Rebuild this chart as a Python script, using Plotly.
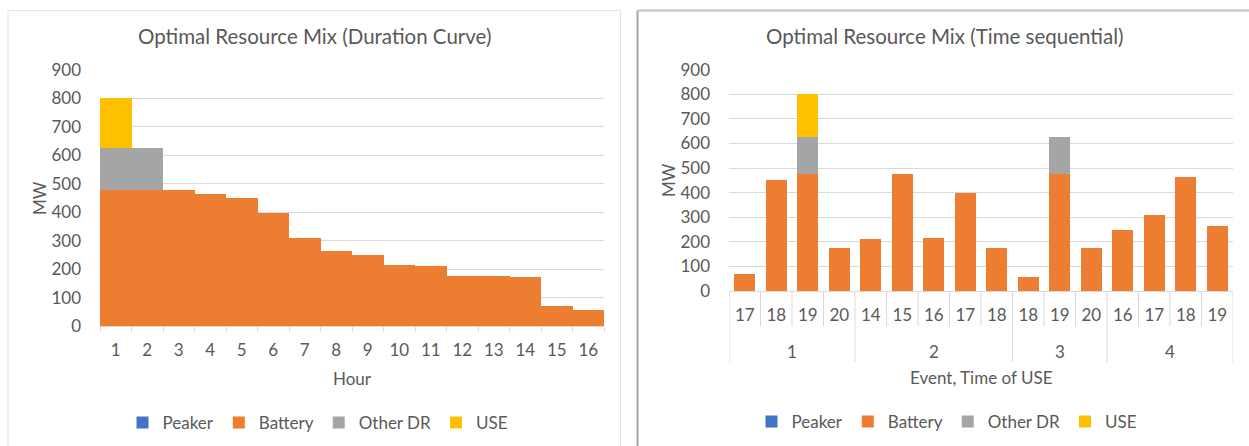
import plotly.graph_objects as go

# ---- data -------------------------------------------------------------
series_names = ["Peaker", "Battery", "Other DR", "USE"]
series_colors = ["#4472C4", "#ED7D31", "#A5A5A5", "#FFC000"]

# Duration curve: hours ranked by requirement
dur_hours = [str(h) for h in range(1, 17)]
dur_peaker = [0] * 16
dur_battery = [477, 477, 477, 463, 450, 397, 311, 264, 248, 216, 212, 177, 175, 174, 69, 57]
dur_other_dr = [148, 148, 0, 0, 0, 0, 0, 0, 0, 0, 0, 0, 0, 0, 0, 0]
dur_use = [175, 0, 0, 0, 0, 0, 0, 0, 0, 0, 0, 0, 0, 0, 0, 0]

# Time sequential: event number and hour of use
seq_events = ["1", "1", "1", "1", "2", "2", "2", "2", "2", "3", "3", "3", "4", "4", "4", "4"]
seq_hours = ["17", "18", "19", "20", "14", "15", "16", "17", "18", "18", "19", "20", "16", "17", "18", "19"]
seq_peaker = [0] * 16
seq_battery = [69, 450, 477, 173, 212, 477, 216, 397, 176, 55, 477, 176, 248, 311, 463, 263]
seq_other_dr = [0, 0, 148, 0, 0, 0, 0, 0, 0, 0, 148, 0, 0, 0, 0, 0]
seq_use = [0, 0, 175, 0, 0, 0, 0, 0, 0, 0, 0, 0, 0, 0, 0, 0]

y_ticks = list(range(0, 1000, 100))

# ---- styling ----------------------------------------------------------
FONT = "Lato"
TXT = "#595959"
GRID = "#D9D9D9"
W, H = 1249, 446


def px_x(p):
    return p / W


def px_y(p):
    return 1 - p / H


fig = go.Figure()

dur_vals = [dur_peaker, dur_battery, dur_other_dr, dur_use]
seq_vals = [seq_peaker, seq_battery, seq_other_dr, seq_use]
seq_pos = list(range(len(seq_hours)))

for name, color, vals in zip(series_names, series_colors, dur_vals):
    fig.add_trace(go.Bar(
        x=dur_hours, y=vals, name=name, marker_color=color,
        marker_line_width=0, width=1.0, xaxis="x", yaxis="y",
        legend="legend", hoverinfo="skip",
    ))

for name, color, vals in zip(series_names, series_colors, seq_vals):
    fig.add_trace(go.Bar(
        x=seq_pos, y=vals, name=name, marker_color=color,
        marker_line_width=0, width=0.67, xaxis="x2", yaxis="y2",
        legend="legend2", hoverinfo="skip",
    ))

tickfont = dict(family=FONT, size=17, color=TXT)

yaxis_common = dict(
    range=[0, 900], tickvals=y_ticks, showgrid=True, gridcolor=GRID,
    gridwidth=1, zeroline=False, showline=False, ticks="",
    tickfont=tickfont, ticklabelstandoff=18, automargin=False,
)

legend_common = dict(
    orientation="h", xanchor="center", yanchor="middle",
    font=dict(family=FONT, size=17, color=TXT), traceorder="normal",
    itemwidth=30, bgcolor="rgba(0,0,0,0)",
)

fig.update_layout(
    width=W, height=H,
    margin=dict(l=0, r=0, t=0, b=0, autoexpand=False),
    paper_bgcolor="white", plot_bgcolor="white",
    barmode="stack",
    font=dict(family=FONT, color=TXT),
    xaxis=dict(
        domain=[px_x(100), px_x(604)], anchor="y", type="category",
        showline=True, linecolor=GRID, linewidth=1,
        ticks="outside", tickson="boundaries", ticklen=5, tickcolor=GRID,
        tickfont=tickfont, ticklabelstandoff=9, showgrid=False,
        automargin=False,
    ),
    yaxis=dict(domain=[px_y(326), px_y(70)], anchor="x", **yaxis_common),
    xaxis2=dict(
        domain=[px_x(729), px_x(1233)], anchor="y2", type="linear",
        range=[-0.5, len(seq_hours) - 0.5],
        tickvals=seq_pos, ticktext=seq_hours,
        showline=True, linecolor=GRID, linewidth=1, ticks="",
        tickfont=tickfont, ticklabelstandoff=9, showgrid=False,
        zeroline=False, automargin=False,
    ),
    yaxis2=dict(domain=[px_y(291), px_y(69.7)], anchor="x2", **yaxis_common),
    legend=dict(x=px_x(318), y=px_y(423), **legend_common),
    legend2=dict(x=px_x(947), y=px_y(422), **legend_common),
)

# ---- titles -----------------------------------------------------------
annos = [
    dict(text="Optimal Resource Mix (Duration Curve)", x=px_x(314), y=px_y(36)),
    dict(text="Optimal Resource Mix (Time sequential)", x=px_x(944), y=px_y(36)),
]
for a in annos:
    fig.add_annotation(xref="paper", yref="paper", xanchor="center",
                       yanchor="middle", showarrow=False,
                       font=dict(family=FONT, size=20.5, color=TXT), **a)

axis_titles = [
    dict(text="MW", x=px_x(40), y=px_y(198), textangle=-90),
    dict(text="MW", x=px_x(668), y=px_y(180), textangle=-90),
    dict(text="Hour", x=px_x(352), y=px_y(378), textangle=0),
    dict(text="Event, Time of USE", x=px_x(981), y=px_y(377), textangle=0),
]
for a in axis_titles:
    fig.add_annotation(xref="paper", yref="paper", xanchor="center",
                       yanchor="middle", showarrow=False,
                       font=dict(family=FONT, size=17, color=TXT), **a)

# ---- event group labels under the hour labels --------------------------
groups = []
for i, ev in enumerate(seq_events):
    if groups and groups[-1][0] == ev:
        groups[-1][2] = i
    else:
        groups.append([ev, i, i])
for ev, first, last in groups:
    fig.add_annotation(xref="x2", yref="paper", x=(first + last) / 2,
                       y=px_y(351), text=ev, showarrow=False,
                       xanchor="center", yanchor="middle",
                       font=dict(family=FONT, size=17, color=TXT))

# ---- category dividers: short inside a group, long at group edges ------
n = len(seq_hours)
for k in range(0, n + 1):
    edge = k == 0 or k == n or seq_events[k] != seq_events[k - 1]
    fig.add_shape(type="line", xref="x2", yref="paper",
                  x0=k - 0.5, x1=k - 0.5, y0=px_y(291),
                  y1=px_y(362 if edge else 326),
                  line=dict(color=GRID, width=1))

# ---- chart panel frames -----------------------------------------------
fig.add_shape(type="rect", xref="paper", yref="paper",
              x0=px_x(8), x1=px_x(620.5), y0=px_y(460), y1=px_y(10.5),
              line=dict(color="#E3E3E3", width=1), layer="below")
fig.add_shape(type="line", xref="paper", yref="paper",
              x0=px_x(637.5), x1=px_x(637.5), y0=px_y(460), y1=px_y(10.5),
              line=dict(color="#A6A6A6", width=2))
fig.add_shape(type="line", xref="paper", yref="paper",
              x0=px_x(637.5), x1=px_x(1260), y0=px_y(10.5), y1=px_y(10.5),
              line=dict(color="#C0C0C0", width=2))

fig.write_html("out.html")
